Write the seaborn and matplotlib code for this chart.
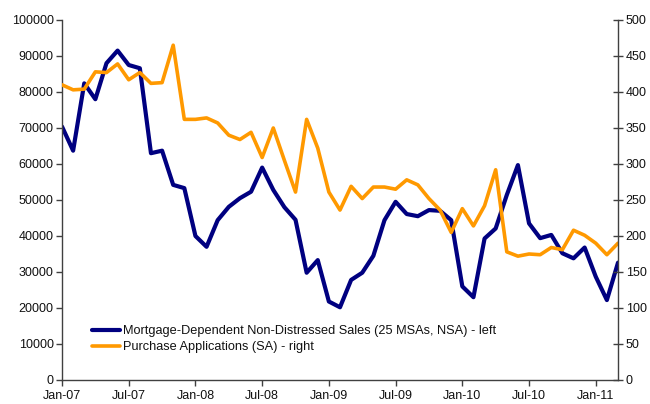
import matplotlib
matplotlib.use("Agg")
import matplotlib.pyplot as plt
import seaborn as sns
import pandas as pd
import numpy as np

sns.set_style("white")
plt.rcParams['font.family'] = ['Liberation Sans', 'DejaVu Sans']

months = ["Jan-07","Feb-07","Mar-07","Apr-07","May-07","Jun-07","Jul-07","Aug-07","Sep-07","Oct-07","Nov-07","Dec-07",
          "Jan-08","Feb-08","Mar-08","Apr-08","May-08","Jun-08","Jul-08","Aug-08","Sep-08","Oct-08","Nov-08","Dec-08",
          "Jan-09","Feb-09","Mar-09","Apr-09","May-09","Jun-09","Jul-09","Aug-09","Sep-09","Oct-09","Nov-09","Dec-09",
          "Jan-10","Feb-10","Mar-10","Apr-10","May-10","Jun-10","Jul-10","Aug-10","Sep-10","Oct-10","Nov-10","Dec-10",
          "Jan-11","Feb-11","Mar-11"]

sales = [70400, 63700, 82400, 78000, 88000, 91500, 87500, 86600, 63000, 63700, 54200, 53300,
         40000, 37000, 44400, 48100, 50500, 52300, 59000, 52800, 48000, 44500, 29800, 33300,
         21800, 20200, 27800, 29800, 34500, 44400, 49500, 46100, 45500, 47200, 47000, 44400,
         26000, 23000, 39300, 42100, 51400, 59700, 43500, 39400, 40300, 35200, 33800, 36800,
         28700, 22200, 32600]

purchase = [410, 403, 404, 428, 427, 439, 417, 427, 412, 413, 465, 362,
            362, 364, 357, 340, 334, 344, 309, 350, 305, 261, 362, 322,
            261, 236, 269, 252, 268, 268, 265, 278, 271, 252, 236, 205,
            238, 214, 242, 292, 178, 172, 175, 174, 184, 181, 208, 201,
            190, 174, 190]

tick_labels = ["Jan-07","Jul-07","Jan-08","Jul-08","Jan-09","Jul-09","Jan-10","Jul-10","Jan-11"]

label_sales = "Mortgage-Dependent Non-Distressed Sales (25 MSAs, NSA) - left"
label_purch = "Purchase Applications (SA) - right"

df = pd.DataFrame({"m": np.arange(len(months)), "sales": sales, "purchase": purchase})

fig = plt.figure(figsize=(6.5, 4.04), dpi=100)
ax = fig.add_axes([62/650, 1 - 380/404, (618-62)/650, (380-20)/404])
ax2 = ax.twinx()

navy = "#000080"
orange = "#FF9900"

sns.lineplot(data=df, x="m", y="sales", ax=ax, color=navy, linewidth=3.0, label=label_sales, legend=False)
sns.lineplot(data=df, x="m", y="purchase", ax=ax2, color=orange, linewidth=2.6, label=label_purch, legend=False)

ax.set_xlim(0, len(months) - 1)
ax.set_ylim(0, 100000)
ax2.set_ylim(0, 500)
ax.set_yticks(np.arange(0, 100001, 10000))
ax2.set_yticks(np.arange(0, 501, 50))
ax.set_xticks([months.index(t) for t in tick_labels])
ax.set_xticklabels(tick_labels)
ax.set_xlabel("")
ax.set_ylabel("")
ax2.set_ylabel("")

spine_col = "#404040"
for a in (ax, ax2):
    a.spines["top"].set_visible(False)
    for s in ["left", "bottom", "right"]:
        a.spines[s].set_color(spine_col)
        a.spines[s].set_linewidth(1.0)
ax.spines["right"].set_visible(False)
ax2.spines["left"].set_visible(False)
ax2.spines["bottom"].set_visible(False)

txt_col = "#111111"
ax.tick_params(axis="y", direction="out", length=4, width=1, color=spine_col, labelsize=9, labelcolor=txt_col, pad=2, left=True)
ax.tick_params(axis="x", direction="out", length=4, width=1, color=spine_col, labelsize=9, labelcolor=txt_col, pad=3, bottom=True)
ax2.tick_params(axis="y", direction="inout", length=7, width=1, color=spine_col, labelsize=9, labelcolor=txt_col, pad=2, right=True)

h1, l1 = ax.get_legend_handles_labels()
h2, l2 = ax2.get_legend_handles_labels()
leg = ax2.legend(h1 + h2, l1 + l2, loc="lower left", bbox_to_anchor=(0.045, 0.06), frameon=False,
                 fontsize=9.2, handlelength=2.2, handletextpad=0.2, labelspacing=0.3, borderaxespad=0)
for t in leg.get_texts():
    t.set_color(txt_col)

fig.savefig("out.png", dpi=100)
